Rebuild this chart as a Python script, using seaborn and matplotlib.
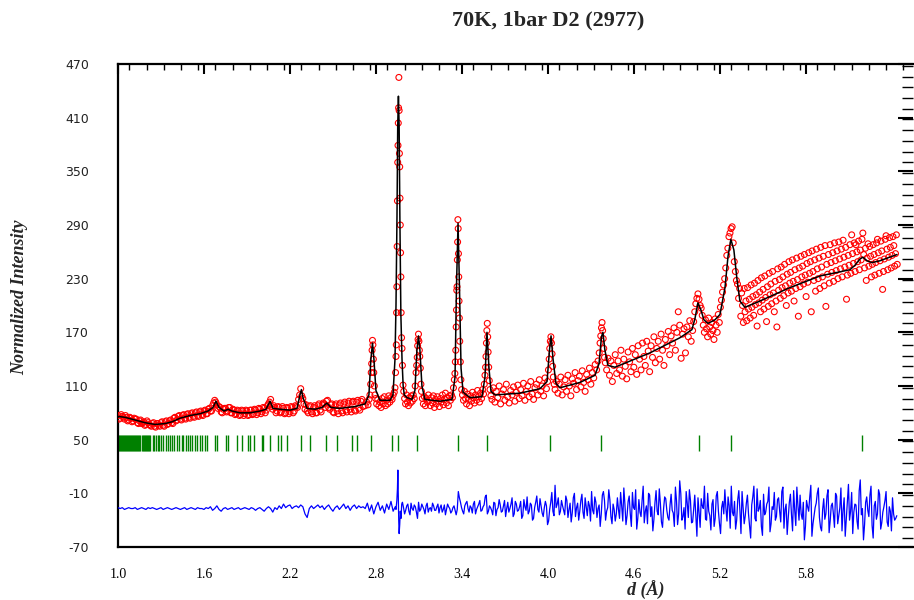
import numpy as np
import pandas as pd
import matplotlib
matplotlib.use("Agg")
import matplotlib.pyplot as plt
from matplotlib.ticker import MultipleLocator, FixedLocator
import seaborn as sns

# ---------------- text ----------------
title = "70K, 1bar D2 (2977)"
xlabel = "d (Å)"
ylabel = "Normalized Intensity"
xtick_vals = [1.0, 1.6, 2.2, 2.8, 3.4, 4.0, 4.6, 5.2, 5.8]
ytick_vals = [-70, -10, 50, 110, 170, 230, 290, 350, 410, 470]

# ---------------- calculated profile (d, I) ----------------
calc_d = [1.000, 1.049, 1.119, 1.188, 1.258, 1.328, 1.377, 1.433, 1.502, 1.572, 1.628, 1.663, 1.684, 1.705,
          1.740, 1.768, 1.795, 1.851, 1.921, 1.991, 2.033, 2.061, 2.082, 2.130, 2.200, 2.249, 2.270, 2.280,
          2.291, 2.319, 2.375, 2.423, 2.458, 2.486, 2.549, 2.654, 2.724, 2.751, 2.765, 2.776, 2.786, 2.800,
          2.828, 2.898, 2.919, 2.933, 2.940, 2.947, 2.952, 2.957, 2.962, 2.967, 2.974, 2.982, 2.990, 2.998,
          3.017, 3.052, 3.072, 3.086, 3.097, 3.107, 3.121, 3.142, 3.247, 3.331, 3.352, 3.362, 3.373, 3.383,
          3.394, 3.408, 3.456, 3.540, 3.561, 3.575, 3.589, 3.603, 3.631, 3.805, 3.945, 3.994, 4.011, 4.022,
          4.036, 4.056, 4.084, 4.224, 4.329, 4.357, 4.374, 4.384, 4.398, 4.419, 4.468, 4.712, 4.922, 5.005,
          5.026, 5.047, 5.068, 5.089, 5.117, 5.166, 5.201, 5.236, 5.257, 5.277, 5.298, 5.319, 5.340, 5.375,
          5.480, 5.689, 5.899, 6.108, 6.143, 6.178, 6.199, 6.227, 6.261, 6.317, 6.436]
calc_i = [76, 75, 72, 69, 67, 68, 70, 74, 77, 79, 82, 86, 93, 86,
          82, 84, 82, 80, 80, 82, 84, 93, 85, 84, 83, 85, 100, 106,
          97, 85, 84, 86, 91, 86, 85, 87, 90, 100, 140, 158, 140, 105,
          94, 94, 100, 140, 200, 300, 400, 434, 400, 300, 190, 140, 110, 100,
          97, 95, 105, 150, 166, 150, 110, 95, 93, 95, 120, 220, 292, 220,
          130, 103, 97, 98, 120, 170, 130, 104, 100, 102, 107, 115, 150, 166,
          140, 113, 108, 114, 122, 135, 165, 170, 150, 133, 131, 147, 164, 173,
          185, 203, 195, 184, 180, 184, 190, 220, 255, 274, 262, 230, 205, 198,
          205, 220, 233, 240, 245, 252, 254, 250, 248, 250, 257]

# ---------------- observed points ----------------
obs_lo_i = [77, 74, 76, 73, 75, 72, 74, 71, 73, 69, 71, 68, 70, 67, 69, 66, 68, 65, 68, 66,
            69, 66, 70, 67, 71, 69, 74, 71, 76, 73, 77, 74, 78, 75, 79, 76, 80, 77, 81, 78,
            82, 79, 84, 82, 88, 94, 89, 87, 81, 84, 85, 82, 86, 80, 83, 79, 82, 78, 82, 79,
            82, 78, 83, 79, 83, 80, 84, 81, 85, 83, 90, 95, 84, 86, 82, 86, 81, 85, 80, 85,
            81, 86, 82, 87, 95, 107, 96, 84, 82, 87, 81, 86, 80, 88, 83, 89, 90, 93, 86, 89,
            81, 88, 82, 89, 82, 90, 83, 91, 84, 92, 83, 92, 85, 93, 87]
obs_lo_range = (1.000, 2.710)
obs_lo2_i = [73, 78, 75, 77, 71, 75, 70, 74, 73, 68, 72, 69, 66, 71, 67, 65, 69, 64, 68, 65,
             70, 65, 71, 68, 72, 68, 75, 72, 77, 72, 78, 73, 79, 74, 80, 75, 81, 76, 82, 77,
             83, 79, 85, 82, 91, 92, 85, 86, 80, 85, 81, 86, 80, 84, 78, 83, 77, 83, 77, 83,
             77, 83, 78, 84, 78, 85, 79, 86, 80, 88, 92, 87, 88, 80, 87, 80, 87, 79, 86, 79,
             87, 80, 88, 86, 100, 99, 90, 89, 80, 88, 79, 88, 80, 90, 81, 91, 86, 94, 84, 90,
             80, 90, 79, 91, 80, 92, 81, 93, 81, 93, 82, 94, 83, 95]
obs_lo2_range = (1.0075, 2.7025)

obs_pk1_d = [2.725, 2.735, 2.745, 2.752, 2.758, 2.763, 2.767, 2.770, 2.773, 2.776, 2.779, 2.782, 2.785,
             2.789, 2.793, 2.798]
obs_pk1_i = [88, 92, 89, 95, 100, 112, 125, 135, 150, 161, 156, 140, 125, 110, 100, 96]
obs_bg1_i = [90, 95, 88, 92, 86, 96, 90, 98, 88, 94, 90, 99, 92, 97, 95, 100, 103]
obs_bg1_range = (2.805, 2.928)
obs_pk2_d = [2.933, 2.937, 2.940, 2.942, 2.944, 2.946, 2.948, 2.950, 2.952, 2.954, 2.956, 2.958, 2.960,
             2.962, 2.964, 2.966, 2.968, 2.970, 2.972, 2.974, 2.976, 2.979, 2.982, 2.985, 2.989, 2.994]
obs_pk2_i = [108, 125, 143, 156, 192, 221, 266, 317, 360, 379, 404, 421, 455,
             418, 370, 355, 320, 290, 259, 232, 192, 164, 152, 133, 111, 104]
obs_bg2_i = [96, 90, 100, 92, 88, 97, 91, 99, 93, 100, 96, 110]
obs_bg2_range = (3.000, 3.074)
obs_pk3_d = [3.080, 3.084, 3.088, 3.091, 3.094, 3.097, 3.100, 3.103, 3.106, 3.110, 3.114, 3.118]
obs_pk3_i = [125, 133, 142, 155, 162, 168, 160, 150, 143, 130, 112, 104]
obs_bg3_i = [96, 90, 98, 88, 96, 92, 100, 94, 88, 97, 91, 99, 86, 95, 90, 98, 93, 87, 96, 92, 100, 89,
             95, 102, 91, 97, 88, 99, 94, 100, 97, 108]
obs_bg3_range = (3.124, 3.341)
obs_pk4_d = [3.347, 3.351, 3.354, 3.357, 3.360, 3.362, 3.364, 3.366, 3.368, 3.370, 3.372, 3.374, 3.376,
             3.378, 3.380, 3.382, 3.385, 3.389, 3.393, 3.398]
obs_pk4_i = [117, 124, 137, 150, 176, 195, 217, 221, 251, 271, 296, 286, 258, 232, 205, 186, 160, 137,
             117, 106]
obs_bg4_i = [100, 94, 104, 96, 90, 101, 95, 88, 99, 93, 103, 97, 91, 100, 94, 105, 98, 92, 102, 96, 106, 101]
obs_bg4_range = (3.404, 3.551)
obs_pk5_d = [3.556, 3.561, 3.565, 3.568, 3.571, 3.574, 3.577, 3.580, 3.583, 3.587, 3.591, 3.596, 3.602]
obs_pk5_i = [112, 122, 131, 143, 158, 172, 180, 165, 148, 131, 116, 106, 99]
obs_bg5_i = [95, 108, 92, 104, 97, 110, 90, 101, 106, 94, 112, 98, 91, 105, 100, 109, 93, 103, 111, 96,
             106, 99, 113, 94, 104, 110, 98, 115, 101, 95, 108, 112, 100, 117, 104, 110, 99, 119, 107]
obs_bg5_range = (3.610, 3.990)
obs_pk6_d = [3.998, 4.004, 4.009, 4.013, 4.017, 4.021, 4.025, 4.029, 4.033, 4.038, 4.044, 4.050]
obs_pk6_i = [115, 128, 140, 152, 160, 165, 158, 146, 132, 120, 112, 106]
obs_bg6_i = [115, 102, 112, 120, 100, 109, 117, 104, 122, 110, 99, 118, 113, 125, 106, 116, 121, 109, 127,
             114, 104, 123, 117, 130, 112, 125, 119, 134, 128, 138]
obs_bg6_range = (4.060, 4.350)
obs_pk7_d = [4.358, 4.364, 4.369, 4.374, 4.378, 4.382, 4.386, 4.390, 4.395, 4.401]
obs_pk7_i = [147, 158, 166, 175, 181, 172, 163, 152, 142, 136]
obs_bg7_i = [128, 141, 122, 138, 115, 133, 145, 124, 138, 128, 150, 121, 140, 132, 118, 148, 137, 126, 152, 131,
             145, 123, 155, 140, 128, 158, 143, 133, 160, 149, 126, 155, 142, 165, 136, 152, 160, 140, 168, 150,
             133, 162, 155, 171, 145, 166, 158, 175, 150, 170, 193, 178, 141, 168, 174, 147, 176, 165, 183, 160]
obs_bg7_range = (4.410, 5.000)
obs_pk8_i = [172, 182, 193, 202, 208, 213, 207, 200, 197, 189, 178, 170, 184, 174, 165, 186, 176, 168, 181,
             172, 162, 185, 178, 170, 190, 181, 198, 206,
             215, 223, 230, 242, 256, 264, 277, 281, 286, 288, 270, 249, 238, 228, 224, 208, 219]
obs_pk8_range = (5.010, 5.338)
obs_band_i = [188, 214, 200, 181, 219, 193, 205, 183, 220, 196, 207, 186, 223, 198, 210, 189, 225, 201, 212, 177,
              228, 203, 215, 193, 231, 206, 218, 196, 233, 209, 182, 221, 199, 236, 212, 224, 202, 238, 214, 193,
              227, 205, 176, 241, 217, 229, 208, 243, 220, 232, 211, 246, 222, 200, 235, 214, 249, 225, 237, 216,
              251, 227, 205, 240, 219, 253, 229, 188, 242, 221, 255, 232, 244, 224, 257, 234, 210, 247, 226, 259,
              236, 249, 193, 261, 238, 228, 251, 216, 263, 241, 230, 253, 219, 265, 243, 232, 255, 222, 267, 199,
              246, 235, 257, 225, 268, 248, 237, 259, 227, 270, 250, 239, 261, 230, 271, 252, 241, 263, 232, 273,
              254, 243, 265, 207, 234, 256, 245, 268, 236, 279, 258, 247, 270, 238, 268, 260, 249, 272, 240, 262,
              251, 274, 281, 257, 242, 264, 228, 253, 269, 244, 266, 255, 232, 246, 268, 257, 234, 248, 270, 274,
              259, 236, 250, 272, 261, 218, 238, 252, 274, 278, 263, 240, 254, 276, 265, 242, 256, 277, 267, 244,
              258, 279, 246]
obs_band_range = (5.346, 6.438)

# ---------------- difference curve ----------------
diff_lo_i = [-26, -27, -26, -28, -27, -26, -27, -27, -26, -28, -27, -26, -27, -28, -26, -27, -26, -27, -28, -27,
             -26, -28, -27, -26, -27, -28, -27, -26, -27, -28,
             -27, -26, -28, -27, -26, -27, -28, -26, -27, -27, -28, -26, -27, -25, -29, -27, -24, -28, -30, -27,
             -26, -28, -27, -26, -28, -27, -26, -28, -27, -26,
             -27, -28, -26, -27, -29, -27, -26, -28, -30, -27, -25, -27, -31, -26, -28, -24, -27, -22, -26, -24,
             -23, -27, -25, -24, -26, -23, -25, -33, -37, -27,
             -24, -27, -25, -23, -26, -24, -28, -25, -23, -27, -30, -26, -24, -28, -25, -22, -27, -24, -29, -25,
             -23, -27, -24, -26, -25]
diff_lo_range = (1.000, 2.710)
diff_a_i = [-27, -21, -30, -23, -33, -25, -20, -29, -24, -32, -22, -28, -19, -30, -25]
diff_a_range = (2.725, 2.935)
diff_spk_d = [2.940, 2.946, 2.950, 2.953, 2.956, 2.959, 2.962, 2.966, 2.970, 2.975, 2.980]
diff_spk_i = [-28, -18, -5, 16, -10, -40, -55, -45, -30, -38, -22]
diff_b_i = [-20, -33, -24, -30, -21, -29, -25, -38, -30, -22, -28, -24, -31, -26, -21, -29, -25, -32, -23, -28,
            -34, -22, -27, -30, -24,
            -34, -8, -20, -30, -24, -19, -31, -26, -22, -33, -25, -18, -29, -23, -12, -30, -26, -34, -21, -28,
            -17, -31, -24, -36, -20,
            -27, -15, -33, -22, -29, -19, -35, -25, -14, -30, -23, -38, -20, -28, -16, -32, -26, -24, -41, -20,
            -30, -1, -22, -34, -18,
            -29, -13, -37, -21, -32, -10, -26, -40, -18, -31, -15, -35, -24, -8, -33, -20, -27, -47, -12, -18,
            -30, -6, -36, -22, -41,
            -15, -38, -24, -4, -45, -19, -33, -9, -28, -50, -17, -36, -2, -30, -44, -12, -25, -39, -7, -34,
            -21, -48, -14, -29, -40,
            -11, -32, -3, -45, 4, -40, -26, -8, -37, -18, -42, -12, -58, -31, -16, -27, -39, -10, -35, -22,
            -47, -13, -30, -55, -19,
            -6, -41, -24, -2, -35, -50, -17, -29, -8, -44, -21, -33, -60, -14, -38, -5, -27, -47, -11, -31,
            -19, -53, -25, -9, -36,
            -15, -42, -3, -28, -56, -20, -34, -7, -46, -24, -12, -39, -62, -18, -30, -1, -44, -26, -10, -37,
            -52, -16, -33, -6, -41,
            -21, -48, -13, -35, -4, -29, -58, -17, -40, -9, -31, -23, -50, 5, -27, -45, -14, -36, -2, -60,
            -19, -33, -11, -43, -25,
            -8, -47, -30, -15, -40, -35]
diff_b_range = (2.985, 6.435)
diff_b2_i = [-26, -29, -22, -34, -27, -23, -31, -20, -28, -25, -33, -21, -27, -30, -24, -29, -22, -26, -31, -23,
             -28, -25, -32, -26, -29,
             -28, -15, -26, -33, -21, -27, -24, -32, -19, -28, -22, -30, -25, -14, -33, -24, -29, -20, -35, -26,
             -23, -30, -18, -27, -31,
             -22, -36, -19, -30, -25, -38, -17, -29, -33, -21, -40, -26, -13, -31, -24, -36, -19, -45, -28, -9,
             -35, -26, -15, -30, -24,
             -34, -18, -28, -42, -15, -36, -21, -30, -11, -38, -25, -19, -41, -29, -14, -37, -23, -33, -8, -40,
             -26, -17, -44, -28, -33,
             -28, -9, -41, -22, -35, -13, -47, -26, -6, -38, -31, -18, -43, -24, -10, -36, -52, -20, -30, -5,
             -42, -27, -16, -37, -23,
             -29, -47, -18, -33, -10, -36, -50, -21, -6, -43, -28, -35, -15, -48, -24, -2, -40, -30, -51, -17,
             -38, -8, -44, -26, -33,
             -27, -14, -49, -31, -19, -40, -7, -55, -26, -35, -12, -46, -23, -2, -41, -30, -18, -57, -34, -22,
             -3, -44, -28, -40, -17,
             -30, -8, -49, -22, -37, -11, -52, -29, -3, -40, -33, -20, -47, -25, -14, -58, -35, -21, -4, -48,
             -28, -39, -13, -54, -24,
             -33, -10, -44, -26, -52, -15, -38, 0, -30, -55, -22, -41, -7, -34, -62, -20, -29, -12, -46, -24,
             -39, -6, -50, -31, -18,
             -42, -25, -52, -33, -38]
diff_b2_range = (2.9925, 6.4275)

# ---------------- reflection positions ----------------
refl_d = [1.003, 1.010, 1.017, 1.024, 1.031, 1.038, 1.045, 1.052, 1.059, 1.066, 1.073, 1.080, 1.087, 1.094,
          1.101, 1.108, 1.115, 1.122, 1.129, 1.136, 1.143, 1.150, 1.157, 1.164, 1.171, 1.178, 1.185, 1.192,
          1.199, 1.206, 1.213, 1.220,
          1.242, 1.253, 1.265, 1.277, 1.288, 1.300, 1.316, 1.333, 1.347, 1.363, 1.375, 1.391, 1.410, 1.426,
          1.444, 1.456, 1.475, 1.486, 1.502, 1.519, 1.537, 1.549, 1.572, 1.584, 1.607, 1.623, 1.677, 1.689,
          1.754, 1.770, 1.828, 1.863, 1.910, 1.921, 1.949, 2.003, 2.014, 2.061, 2.119, 2.135, 2.181, 2.275,
          2.340, 2.449, 2.526, 2.631, 2.666, 2.763, 2.910, 2.956, 3.088, 3.370, 3.573, 4.015, 4.371, 5.054,
          5.280, 6.190]
refl_lo, refl_hi = 37, 55


def grid(rng, vals):
    return np.linspace(rng[0], rng[1], len(vals))


obs = pd.DataFrame({
    "d": np.concatenate([grid(obs_lo_range, obs_lo_i), grid(obs_lo2_range, obs_lo2_i), obs_pk1_d,
                         grid(obs_bg1_range, obs_bg1_i), obs_pk2_d,
                         grid(obs_bg2_range, obs_bg2_i), obs_pk3_d, grid(obs_bg3_range, obs_bg3_i), obs_pk4_d,
                         grid(obs_bg4_range, obs_bg4_i), obs_pk5_d, grid(obs_bg5_range, obs_bg5_i), obs_pk6_d,
                         grid(obs_bg6_range, obs_bg6_i), obs_pk7_d, grid(obs_bg7_range, obs_bg7_i),
                         grid(obs_pk8_range, obs_pk8_i), grid(obs_band_range, obs_band_i)]),
    "I": np.concatenate([obs_lo_i, obs_lo2_i, obs_pk1_i, obs_bg1_i, obs_pk2_i, obs_bg2_i, obs_pk3_i, obs_bg3_i,
                         obs_pk4_i, obs_bg4_i, obs_pk5_i, obs_bg5_i, obs_pk6_i, obs_bg6_i, obs_pk7_i, obs_bg7_i,
                         obs_pk8_i, obs_band_i]),
})
calc = pd.DataFrame({"d": calc_d, "I": calc_i})
diff = pd.DataFrame({
    "d": np.concatenate([grid(diff_lo_range, diff_lo_i), grid(diff_a_range, diff_a_i), diff_spk_d,
                         grid(diff_b_range, diff_b_i), grid(diff_b2_range, diff_b2_i)]),
    "I": np.concatenate([diff_lo_i, diff_a_i, diff_spk_i, diff_b_i, diff_b2_i]),
}).sort_values("d")

sns.set_style("white")
plt.rcParams["font.family"] = ["DejaVu Sans"]

fig = plt.figure(figsize=(9.14, 6.0), dpi=100)
ax = fig.add_axes([118 / 914, 53 / 600, 795 / 914, 483 / 600])

ax.vlines(refl_d, refl_lo, refl_hi, colors="#008000", linewidth=1.0, zorder=2)
sns.lineplot(data=diff, x="d", y="I", ax=ax, color="#0000ff", linewidth=0.9, estimator=None, sort=False, zorder=3)
sns.scatterplot(data=obs, x="d", y="I", ax=ax, marker="o", s=18, facecolor="none", edgecolor="#ff0000",
                linewidth=0.8, zorder=4)
sns.lineplot(data=calc, x="d", y="I", ax=ax, color="black", linewidth=1.1, estimator=None, sort=False, zorder=5)

ax.set_xlim(1.0, 6.548)
ax.set_ylim(-70, 470)
ax.xaxis.set_major_locator(FixedLocator(xtick_vals))
ax.xaxis.set_minor_locator(MultipleLocator(0.12))
ax.yaxis.set_major_locator(FixedLocator(ytick_vals))
ax.yaxis.set_minor_locator(MultipleLocator(12))
ax.set_xticklabels([f"{v:.1f}" for v in xtick_vals], family="Liberation Serif", fontsize=10)
ax.set_yticklabels([str(v) for v in ytick_vals], family="DejaVu Sans", fontsize=9, color="#222222")

ax.tick_params(axis="both", which="both", direction="in", top=True, right=True, colors="black")
ax.tick_params(axis="x", which="major", length=7, width=1.5, pad=15)
ax.tick_params(axis="x", which="minor", length=4, width=1.0)
ax.tick_params(axis="y", which="major", length=11, width=1.5, pad=21)
ax.tick_params(axis="y", which="minor", length=8, width=1.0)
for lab in ax.get_yticklabels():
    lab.set_color("#222222")

for side in ["left", "bottom", "top"]:
    ax.spines[side].set_visible(True)
    ax.spines[side].set_color("black")
    ax.spines[side].set_linewidth(1.6)
ax.spines["right"].set_visible(False)

ax.set_xlabel("")
ax.set_ylabel("")
fig.text(646 / 914, 1 - 590 / 600, xlabel, ha="center", va="center", family="Liberation Serif",
         fontsize=13, fontweight="bold", style="italic")
fig.text(20 / 914, 1 - 297 / 600, ylabel, ha="center", va="center", rotation=90, family="Liberation Serif",
         fontsize=13, fontweight="bold", style="italic")
fig.text(548 / 914, 1 - 20 / 600, title, ha="center", va="center", family="Liberation Serif",
         fontsize=16, fontweight="bold")

fig.savefig("out.png", dpi=100)
